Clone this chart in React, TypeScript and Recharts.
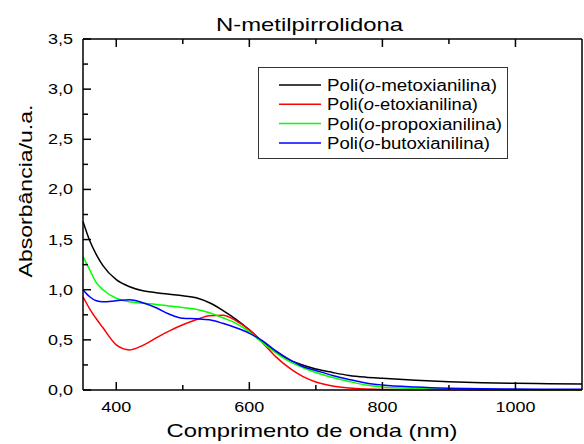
import React from 'react';
import { LineChart, Line, XAxis, YAxis, Legend, Label } from 'recharts';

const wavelength = [350, 360, 370, 380, 400, 420, 440, 460, 480, 500, 520, 540, 560, 580, 600, 620, 640, 660, 680, 700, 725, 750, 775, 800, 850, 900, 950, 1000, 1050, 1100];

const metoxi = [1.68, 1.49, 1.35, 1.24, 1.10, 1.03, 0.99, 0.97, 0.955, 0.94, 0.92, 0.87, 0.795, 0.705, 0.60, 0.48, 0.38, 0.30, 0.25, 0.21, 0.175, 0.145, 0.128, 0.117, 0.097, 0.082, 0.073, 0.067, 0.063, 0.06];
const etoxi = [0.93, 0.81, 0.71, 0.62, 0.45, 0.40, 0.445, 0.52, 0.59, 0.65, 0.70, 0.74, 0.745, 0.69, 0.60, 0.47, 0.33, 0.22, 0.135, 0.08, 0.04, 0.02, 0.01, 0.005, 0.003, 0.002, 0.001, 0.001, 0.0, 0.0];
const propoxi = [1.33, 1.20, 1.07, 1.00, 0.915, 0.88, 0.865, 0.853, 0.838, 0.822, 0.805, 0.77, 0.72, 0.665, 0.58, 0.47, 0.37, 0.285, 0.225, 0.175, 0.125, 0.085, 0.05, 0.03, 0.015, 0.008, 0.005, 0.003, 0.002, 0.002];
const butoxi = [1.00, 0.93, 0.89, 0.88, 0.89, 0.90, 0.87, 0.82, 0.755, 0.715, 0.71, 0.70, 0.665, 0.62, 0.565, 0.49, 0.39, 0.305, 0.235, 0.195, 0.145, 0.105, 0.07, 0.05, 0.03, 0.018, 0.012, 0.01, 0.008, 0.008];

const xTicks = [400, 500, 600, 700, 800, 900, 1000];
const xMajor = [400, 600, 800, 1000];
const yTicks = [0, 0.25, 0.5, 0.75, 1, 1.25, 1.5, 1.75, 2, 2.25, 2.5, 2.75, 3, 3.25, 3.5];
const yMajor = [0, 0.5, 1, 1.5, 2, 2.5, 3, 3.5];

const series = [
  { key: 'metoxi', name: 'metoxianilina', color: '#000000', width: 170 },
  { key: 'etoxi', name: 'etoxianilina', color: '#ff0000', width: 151 },
  { key: 'propoxi', name: 'propoxianilina', color: '#00ff00', width: 175 },
  { key: 'butoxi', name: 'butoxianilina', color: '#0000ff', width: 163 },
];

const data = wavelength.map((w, i) => ({
  nm: w,
  metoxi: metoxi[i],
  etoxi: etoxi[i],
  propoxi: propoxi[i],
  butoxi: butoxi[i],
}));

const font = '"Liberation Sans", Arial, sans-serif';

const BottomTick = (props: any) => {
  const { x, y, payload } = props;
  const major = xMajor.includes(payload.value);
  const label = String(payload.value);
  return (
    <g>
      <line x1={x} x2={x} y1={y} y2={y - (major ? 8 : 5)} stroke="#000" strokeWidth={1.5} />
      {major && (
        <text x={x} y={y + 22} textAnchor="middle" fontSize={14} fontFamily={font} fill="#000"
          textLength={label.length * 10} lengthAdjust="spacingAndGlyphs">{label}</text>
      )}
    </g>
  );
};

const TopTick = (props: any) => {
  const { x, y, payload } = props;
  const major = xMajor.includes(payload.value);
  return <line x1={x} x2={x} y1={y} y2={y + (major ? 8 : 5)} stroke="#000" strokeWidth={1.5} />;
};

const LeftTick = (props: any) => {
  const { x, y, payload } = props;
  const major = yMajor.includes(payload.value);
  const label = payload.value.toFixed(1).replace('.', ',');
  return (
    <g>
      <line x1={x} x2={x + (major ? 8 : 5)} y1={y} y2={y} stroke="#000" strokeWidth={1.5} />
      {major && (
        <text x={x - 10} y={y + 5} textAnchor="end" fontSize={14} fontFamily={font} fill="#000"
          textLength={25} lengthAdjust="spacingAndGlyphs">{label}</text>
      )}
    </g>
  );
};

const RightTick = (props: any) => {
  const { x, y, payload } = props;
  const major = yMajor.includes(payload.value);
  return <line x1={x} x2={x - (major ? 8 : 5)} y1={y} y2={y} stroke="#000" strokeWidth={1.5} />;
};

const renderLegend = () => (
  <svg width={250} height={92}>
    <rect x={0.5} y={0.5} width={249} height={91} fill="#fff" stroke="#333" strokeWidth={1} />
    {series.map((s, i) => {
      const ry = 18 + i * 19.3;
      return (
        <g key={s.key}>
          <line x1={21} x2={63} y1={ry} y2={ry} stroke={s.color} strokeWidth={1.5} />
          <text x={69} y={ry + 6} fontSize={16} fontFamily={font} fill="#000"
            textLength={s.width} lengthAdjust="spacingAndGlyphs">
            <tspan>Poli(</tspan>
            <tspan fontStyle="italic">o</tspan>
            <tspan>-{s.name})</tspan>
          </text>
        </g>
      );
    })}
  </svg>
);

export default function App() {
  return (
    <div style={{ position: 'absolute', left: 0, top: 0, width: 584, height: 444, background: '#fff', fontFamily: font }}>
      <LineChart width={584} height={444} data={data} margin={{ top: 38, right: 0, bottom: 0, left: 0 }}>
        <XAxis xAxisId="b" dataKey="nm" type="number" domain={[350, 1100]} ticks={xTicks} interval={0}
          height={54} tickSize={0} tickMargin={0} tick={BottomTick} tickLine={false}
          axisLine={{ stroke: '#000', strokeWidth: 1.5 }}>
          <Label content={() => (
            <text x={312} y={437} textAnchor="middle" fontSize={19} fontFamily={font} fill="#000"
              textLength={291} lengthAdjust="spacingAndGlyphs">Comprimento de onda (nm)</text>
          )} />
        </XAxis>
        <XAxis xAxisId="t" orientation="top" dataKey="nm" type="number" domain={[350, 1100]} ticks={xTicks}
          interval={0} height={1} tickSize={0} tickMargin={0} tick={TopTick} tickLine={false}
          axisLine={{ stroke: '#000', strokeWidth: 1.5 }}>
          <Label content={() => (
            <text x={309.5} y={31} textAnchor="middle" fontSize={19} fontFamily={font} fill="#000"
              textLength={187} lengthAdjust="spacingAndGlyphs">N-metilpirrolidona</text>
          )} />
        </XAxis>
        <YAxis yAxisId="l" type="number" domain={[0, 3.5]} ticks={yTicks} interval={0} width={83}
          tickSize={0} tickMargin={0} tick={LeftTick} tickLine={false}
          axisLine={{ stroke: '#000', strokeWidth: 1.5 }}>
          <Label content={() => (
            <text x={32} y={191} transform="rotate(-90, 32, 191)" textAnchor="middle" fontSize={19}
              fontFamily={font} fill="#000" textLength={173} lengthAdjust="spacingAndGlyphs">Absorbância/u.a.</text>
          )} />
        </YAxis>
        <YAxis yAxisId="r" orientation="right" type="number" domain={[0, 3.5]} ticks={yTicks} interval={0}
          width={2} tickSize={0} tickMargin={0} tick={RightTick} tickLine={false}
          axisLine={{ stroke: '#000', strokeWidth: 1.5 }} />
        <Legend layout="vertical" align="center" verticalAlign="middle" content={renderLegend}
          wrapperStyle={{ position: 'absolute', left: 258, top: 67, width: 250, height: 92 }} />
        {series.map((s) => (
          <Line key={s.key} xAxisId="b" yAxisId="l" type="monotone" dataKey={s.key} stroke={s.color}
            strokeWidth={1.5} dot={false} isAnimationActive={false} />
        ))}
      </LineChart>
    </div>
  );
}
